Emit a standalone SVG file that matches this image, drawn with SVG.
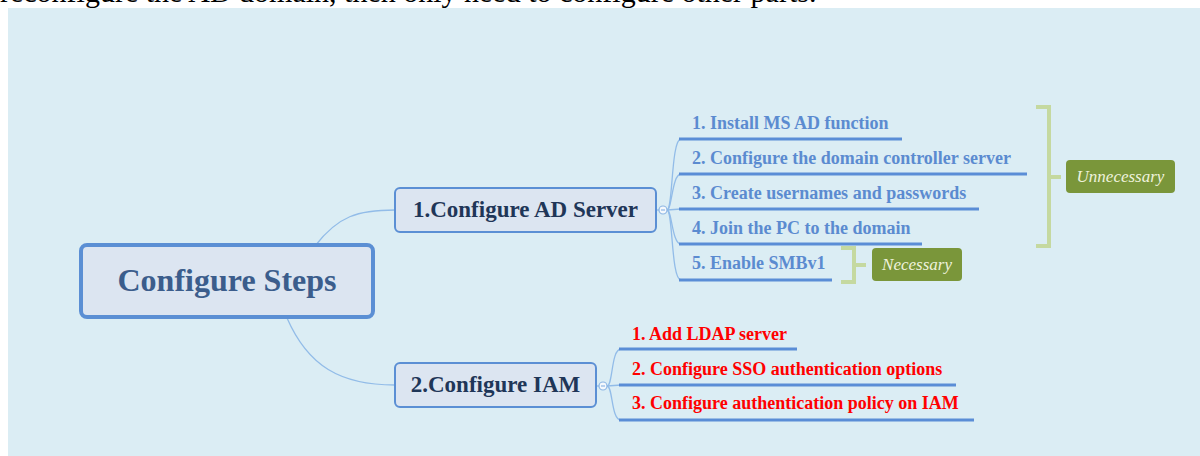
<svg xmlns="http://www.w3.org/2000/svg" width="1200" height="456" viewBox="0 0 1200 456">
  <style>
    .root-box { fill: #DCE5F1; stroke: #5B8FD4; stroke-width: 4; }
    .main-box { fill: #DCE5F1; stroke: #5B8FD4; stroke-width: 2; }
    .root-text { font-family: "Liberation Serif", serif; font-weight: bold; font-size: 32px; fill: #3B5D8C; text-anchor: middle; }
    .main-text { font-family: "Liberation Serif", serif; font-weight: bold; font-size: 23px; fill: #1F3658; text-anchor: middle; }
    .leaf-ad { font-family: "Liberation Serif", serif; font-weight: bold; font-size: 18px; fill: #5B8BD0; }
    .leaf-iam { font-family: "Liberation Serif", serif; font-weight: bold; font-size: 18px; fill: #FF0000; }
    .underline { stroke: #5A8DD6; stroke-width: 3; fill: none; }
    .branch { stroke: #92BCE8; stroke-width: 1.3; fill: none; }
    .toggle { fill: #F4F8FC; stroke: #8DB6E4; stroke-width: 1.2; }
    .toggle-bar { stroke: #8DB6E4; stroke-width: 1.2; }
    .bracket { stroke: #C5D9A0; stroke-width: 4; fill: none; }
    .tag-box { fill: #7A963A; }
    .tag-text { font-family: "Liberation Serif", serif; font-style: italic; font-size: 17px; fill: #EEF2DC; text-anchor: middle; }
    .page-text { font-family: "Liberation Serif", serif; font-size: 30px; fill: #000000; }
  </style>

  <!-- page background and canvas -->
  <rect x="0" y="0" width="1200" height="456" fill="#FFFFFF"/>
  <text class="page-text" x="0" y="2">reconfigure the AD domain, then only need to configure other parts.</text>
  <rect x="8" y="8" width="1192" height="448" fill="#DBEDF4"/>

  <!-- connectors -->
  <g id="connectors">
    <path class="branch" d="M315,246 C338,216 358,210 395,210"/>
    <path class="branch" d="M287,318 C308,366 340,385 395,385"/>
    <!-- AD server children -->
    <line class="branch" x1="656" y1="210" x2="659" y2="210"/>
    <path class="branch" d="M667,210 C673,210 671,139 681,139"/>
    <path class="branch" d="M667,210 C672,210 672,174 681,174"/>
    <path class="branch" d="M667,210 L681,209"/>
    <path class="branch" d="M667,210 C672,210 672,244 681,244"/>
    <path class="branch" d="M667,210 C673,210 671,280 681,280"/>
    <!-- IAM children -->
    <line class="branch" x1="596" y1="386" x2="599" y2="386"/>
    <path class="branch" d="M607,386 C613,386 611,349 621,349"/>
    <path class="branch" d="M607,386 L621,385"/>
    <path class="branch" d="M607,386 C613,386 611,420 621,420"/>
  </g>

  <!-- central topic -->
  <g id="configure-steps">
    <rect class="root-box" x="81" y="245" width="292" height="72" rx="6"/>
    <text class="root-text" x="227" y="291">Configure Steps</text>
  </g>

  <!-- main topic: AD server -->
  <g id="configure-ad-server">
    <rect class="main-box" x="395" y="188" width="261" height="44" rx="5"/>
    <text class="main-text" x="525.5" y="217">1.Configure AD Server</text>
    <circle class="toggle" cx="663" cy="210" r="4"/>
    <line class="toggle-bar" x1="661" y1="210" x2="665" y2="210"/>
  </g>

  <!-- main topic: IAM -->
  <g id="configure-iam">
    <rect class="main-box" x="395" y="363" width="201" height="44" rx="5"/>
    <text class="main-text" x="495.5" y="392">2.Configure IAM</text>
    <circle class="toggle" cx="603" cy="386" r="4"/>
    <line class="toggle-bar" x1="601" y1="386" x2="605" y2="386"/>
  </g>

  <!-- AD server steps -->
  <g id="ad-step-1">
    <text class="leaf-ad" x="692" y="129">1. Install MS AD function</text>
    <line class="underline" x1="679" y1="139" x2="902" y2="139"/>
  </g>
  <g id="ad-step-2">
    <text class="leaf-ad" x="692" y="164">2. Configure the domain controller server</text>
    <line class="underline" x1="679" y1="174" x2="1027" y2="174"/>
  </g>
  <g id="ad-step-3">
    <text class="leaf-ad" x="692" y="199">3. Create usernames and passwords</text>
    <line class="underline" x1="679" y1="209" x2="979" y2="209"/>
  </g>
  <g id="ad-step-4">
    <text class="leaf-ad" x="692" y="234">4. Join the PC to the domain</text>
    <line class="underline" x1="679" y1="244" x2="922" y2="244"/>
  </g>
  <g id="ad-step-5">
    <text class="leaf-ad" x="692" y="269">5. Enable SMBv1</text>
    <line class="underline" x1="679" y1="280" x2="832" y2="280"/>
  </g>

  <!-- IAM steps -->
  <g id="iam-step-1">
    <text class="leaf-iam" x="632" y="340">1. Add LDAP server</text>
    <line class="underline" x1="619" y1="349" x2="797" y2="349"/>
  </g>
  <g id="iam-step-2">
    <text class="leaf-iam" x="632" y="375">2. Configure SSO authentication options</text>
    <line class="underline" x1="619" y1="385" x2="956" y2="385"/>
  </g>
  <g id="iam-step-3">
    <text class="leaf-iam" x="632" y="409">3. Configure authentication policy on IAM</text>
    <line class="underline" x1="619" y1="420" x2="974" y2="420"/>
  </g>

  <!-- summary: steps 1-4 -->
  <g id="summary-unnecessary">
    <path class="bracket" d="M1036,107 H1049 V246 H1036 M1049,177 H1061"/>
    <rect class="tag-box" x="1066" y="160" width="109" height="33" rx="4"/>
    <text class="tag-text" x="1120.5" y="182">Unnecessary</text>
  </g>

  <!-- summary: step 5 -->
  <g id="summary-necessary">
    <path class="bracket" d="M841,248 H854 V282 H841 M854,265 H866"/>
    <rect class="tag-box" x="872" y="248" width="90" height="33" rx="4"/>
    <text class="tag-text" x="917" y="270">Necessary</text>
  </g>
</svg>
